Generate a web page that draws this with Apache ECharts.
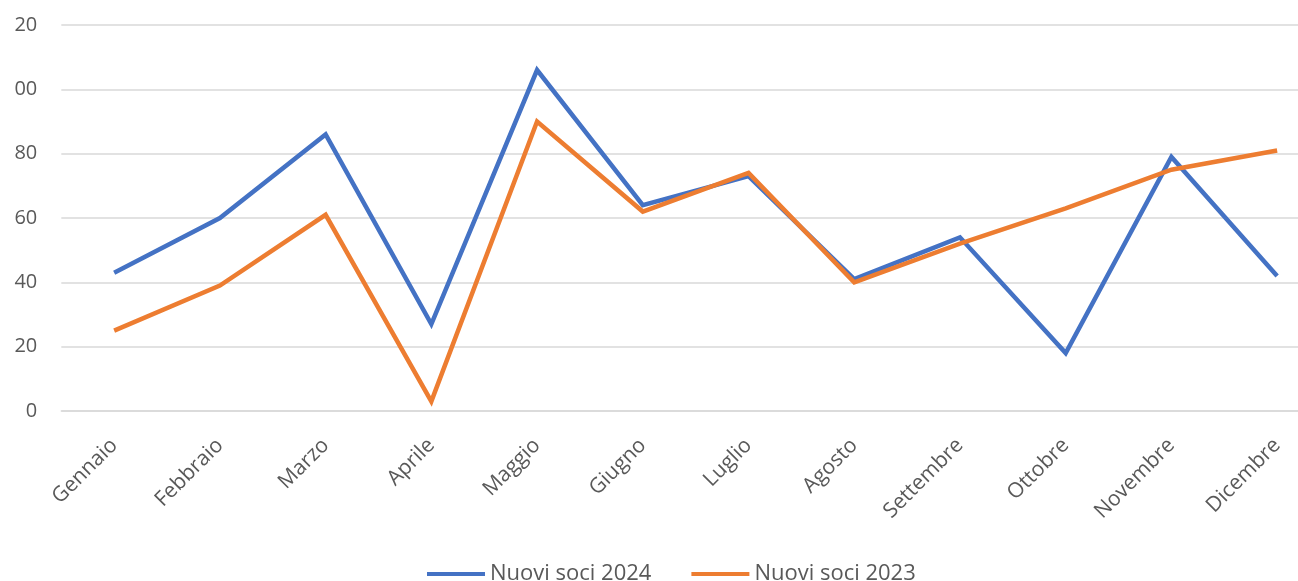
<!DOCTYPE html>
<html>
<head>
<meta charset="utf-8">
<script src="https://cdn.jsdelivr.net/npm/echarts@6/dist/echarts.min.js"></script>
<style>
  html, body { margin: 0; padding: 0; overflow: hidden; background: #ffffff; }
  #wrap { width: 1298px; height: 581px; overflow: hidden; position: relative; }
  /* the chart is wider than the page and its far left strip is cut off */
  #chart { position: absolute; left: 0; top: 0; width: 1340px; height: 581px;
           clip-path: inset(0 0 0 11px); }
</style>
</head>
<body>
<div id="wrap"><div id="chart"></div></div>
<script>
const mesi = ['Gennaio', 'Febbraio', 'Marzo', 'Aprile', 'Maggio', 'Giugno',
              'Luglio', 'Agosto', 'Settembre', 'Ottobre', 'Novembre', 'Dicembre'];
const soci2024 = [43, 60, 86, 27, 106, 64, 73, 41, 54, 18, 79, 42];
const soci2023 = [25, 39, 61, 3, 90, 62, 74, 40, 52, 63, 75, 81];
const yMin = 0, yMax = 120, yStep = 20;

const FONT = '"Open Sans", "Liberation Sans", sans-serif';
const GREY = '#595959';

const chart = echarts.init(document.getElementById('chart'), null, { renderer: 'canvas' });
chart.setOption({
  animation: false,
  backgroundColor: '#ffffff',
  grid: { left: 59, top: 25, width: 1271, bottom: 170, containLabel: false },
  legend: {
    left: 427, top: 563, padding: 0,
    icon: 'rect', itemWidth: 58, itemHeight: 4, itemGap: 40,
    textStyle: { fontFamily: FONT, fontSize: 22, color: GREY },
    data: ['Nuovi soci 2024', 'Nuovi soci 2023']
  },
  xAxis: {
    type: 'category',
    data: mesi,
    boundaryGap: true,
    axisLine: { lineStyle: { color: '#d9d9d9', width: 1.5 } },
    axisTick: { show: false },
    axisLabel: {
      interval: 0, rotate: 45, margin: 31,
      fontFamily: FONT, fontSize: 21, color: GREY
    }
  },
  yAxis: {
    type: 'value',
    min: yMin, max: yMax, interval: yStep,
    axisLine: { show: false },
    axisTick: { show: false },
    splitLine: { lineStyle: { color: '#d9d9d9', width: 1.5 } },
    axisLabel: { margin: 24, fontFamily: FONT, fontSize: 20, color: GREY }
  },
  series: [
    {
      name: 'Nuovi soci 2024', type: 'line', data: soci2024,
      symbol: 'none', color: '#4472C4',
      lineStyle: { width: 4.5, color: '#4472C4', join: 'miter' }
    },
    {
      name: 'Nuovi soci 2023', type: 'line', data: soci2023,
      symbol: 'none', color: '#ED7D31',
      lineStyle: { width: 4.5, color: '#ED7D31', join: 'miter' }
    }
  ]
});
</script>
</body>
</html>
